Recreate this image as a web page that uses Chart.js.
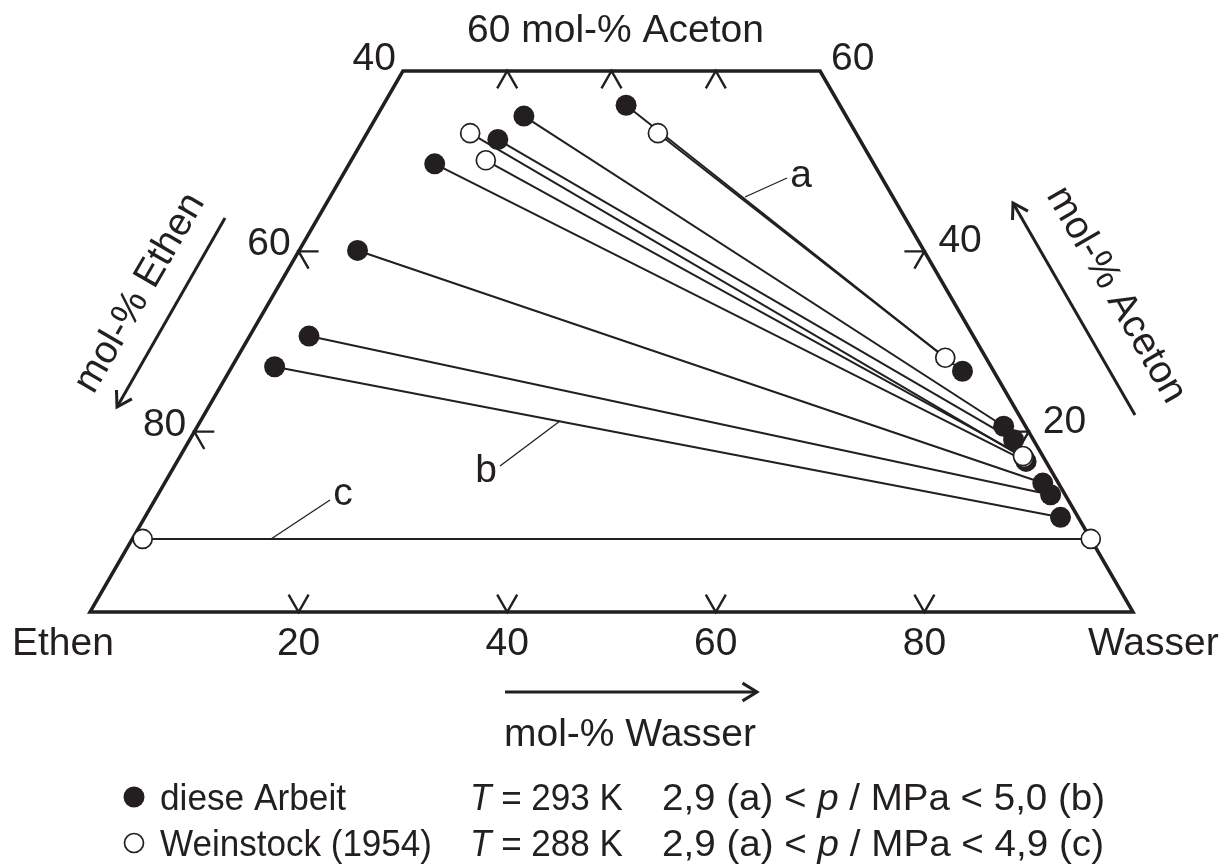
<!DOCTYPE html>
<html>
<head>
<meta charset="utf-8">
<script src="https://cdn.jsdelivr.net/npm/chart.js@4"></script>
<style>
  body { margin: 0; background: #fff; }
  #wrap { width: 1229px; height: 867px; }
</style>
</head>
<body>
<div id="wrap"><canvas id="ternary" width="1229" height="867"></canvas></div>
<script>
// Zusammensetzungen in mol-% (Wasser, Aceton); Ethen = 100 - Wasser - Aceton

// diese Arbeit, T = 293 K (gefüllte Kreise): Ethen-reiche Phase links, Wasser-reiche Phase rechts
const arbeitWasserLinks  = [23.3, 14.1, 12.9, 8.2, 5.6, 5.7, 4.1];
const arbeitAcetonLinks  = [56.2, 55.0, 52.4, 49.7, 40.1, 30.6, 27.2];
const arbeitWasserRechts = [70.3, 77.3, 79.0, 81.4, 84.2, 85.6, 87.8];
const arbeitAcetonRechts = [26.7, 20.6, 19.1, 16.7, 14.3, 13.0, 10.5];

// Weinstock (1954), T = 288 K (offene Kreise)
const weinstockWasserLinks  = [27.9, 9.9, 12.9, 1.0];
const weinstockAcetonLinks  = [53.1, 53.1, 50.1, 8.1];
const weinstockWasserRechts = [67.9, 81.0, 80.8, 91.9];
const weinstockAcetonRechts = [28.2, 17.1, 17.3, 8.1];

// Achsen
const wasserTicks = [20, 40, 60, 80];   // Grundlinie
const obenTicks = [10, 20, 30];         // Wasser bei 60 mol-% Aceton
const ethenTicks = [60, 80];            // linke Seite
const acetonTicks = [40, 20];           // rechte Seite
const acetonMax = 60;

const INK = '#231f20';
const FONT = '"Liberation Sans", Arial, sans-serif';

// Dreieckskoordinaten -> Diagrammkoordinaten
function toXY(w, a) {
  return { x: w + a / 2, y: a };
}

const lineSets = [];
arbeitWasserLinks.forEach((w, i) => {
  lineSets.push([toXY(w, arbeitAcetonLinks[i]), toXY(arbeitWasserRechts[i], arbeitAcetonRechts[i])]);
});
weinstockWasserLinks.forEach((w, i) => {
  lineSets.push([toXY(w, weinstockAcetonLinks[i]), toXY(weinstockWasserRechts[i], weinstockAcetonRechts[i])]);
});

const filledPts = [];
arbeitWasserLinks.forEach((w, i) => filledPts.push(toXY(w, arbeitAcetonLinks[i])));
arbeitWasserRechts.forEach((w, i) => filledPts.push(toXY(w, arbeitAcetonRechts[i])));
const openPts = [];
weinstockWasserLinks.forEach((w, i) => openPts.push(toXY(w, weinstockAcetonLinks[i])));
weinstockWasserRechts.forEach((w, i) => openPts.push(toXY(w, weinstockAcetonRechts[i])));

const datasets = lineSets.map(pts => ({
  data: pts,
  showLine: true,
  borderColor: INK,
  borderWidth: 2,
  pointRadius: 0,
  clip: false,
  order: 3
}));
datasets.push({
  data: filledPts,
  pointRadius: 10.5,
  backgroundColor: INK,
  borderWidth: 0,
  clip: false,
  order: 2
});
datasets.push({
  data: openPts,
  pointRadius: 9.5,
  backgroundColor: '#fff',
  borderColor: INK,
  borderWidth: 1.7,
  clip: false,
  order: 1
});

function seg(ctx, x1, y1, x2, y2) {
  ctx.beginPath();
  ctx.moveTo(x1, y1);
  ctx.lineTo(x2, y2);
  ctx.stroke();
}

function arrow(ctx, x1, y1, x2, y2) {
  seg(ctx, x1, y1, x2, y2);
  const ang = Math.atan2(y2 - y1, x2 - x1);
  const L = 17, spread = 0.55;
  ctx.beginPath();
  ctx.moveTo(x2 - L * Math.cos(ang - spread), y2 - L * Math.sin(ang - spread));
  ctx.lineTo(x2, y2);
  ctx.lineTo(x2 - L * Math.cos(ang + spread), y2 - L * Math.sin(ang + spread));
  ctx.stroke();
}

// Text mit kursiven Stücken, schmal gezogen auf die Breite w
function richText(ctx, x, y, parts, size, w) {
  let total = 0;
  parts.forEach(([t, it]) => {
    ctx.font = (it ? 'italic ' : '') + size + 'px ' + FONT;
    total += ctx.measureText(t).width;
  });
  ctx.save();
  ctx.translate(x, y);
  ctx.scale(w / total, 1);
  let cx = 0;
  parts.forEach(([t, it]) => {
    ctx.font = (it ? 'italic ' : '') + size + 'px ' + FONT;
    ctx.fillText(t, cx, 0);
    cx += ctx.measureText(t).width;
  });
  ctx.restore();
}

const ternaryPlugin = {
  id: 'ternary',
  beforeDatasetsDraw(chart) {
    const ctx = chart.ctx;
    const sx = chart.scales.x, sy = chart.scales.y;
    const P = (w, a) => [sx.getPixelForValue(w + a / 2), sy.getPixelForValue(a)];
    const c60 = Math.cos(Math.PI / 3), s60 = Math.sin(Math.PI / 3);
    const T = 20;

    ctx.save();
    ctx.strokeStyle = INK;
    ctx.lineCap = 'butt';
    ctx.lineJoin = 'miter';

    // Rahmen
    ctx.lineWidth = 3.5;
    ctx.beginPath();
    [P(0, 0), P(100, 0), P(100 - acetonMax, acetonMax), P(0, acetonMax)].forEach((p, i) => {
      if (i === 0) ctx.moveTo(p[0], p[1]); else ctx.lineTo(p[0], p[1]);
    });
    ctx.closePath();
    ctx.stroke();

    // Ticks
    ctx.lineWidth = 2.4;
    wasserTicks.forEach(w => {
      const [x, y] = P(w, 0);
      ctx.beginPath();
      ctx.moveTo(x - T * c60, y - T * s60);
      ctx.lineTo(x, y);
      ctx.lineTo(x + T * c60, y - T * s60);
      ctx.stroke();
    });
    obenTicks.forEach(w => {
      const [x, y] = P(w, acetonMax);
      ctx.beginPath();
      ctx.moveTo(x - T * c60, y + T * s60);
      ctx.lineTo(x, y);
      ctx.lineTo(x + T * c60, y + T * s60);
      ctx.stroke();
    });
    ethenTicks.forEach(e => {
      const [x, y] = P(0, 100 - e);
      ctx.beginPath();
      ctx.moveTo(x + T, y);
      ctx.lineTo(x, y);
      ctx.lineTo(x + T * c60, y + T * s60);
      ctx.stroke();
    });
    acetonTicks.forEach(a => {
      const [x, y] = P(100 - a, a);
      ctx.beginPath();
      ctx.moveTo(x - T, y);
      ctx.lineTo(x, y);
      ctx.lineTo(x - T * c60, y + T * s60);
      ctx.stroke();
    });

    // Hinweislinien a, b, c
    ctx.lineWidth = 1.3;
    seg(ctx, 745, 197, 787, 178);
    seg(ctx, 560, 421, 500, 466);
    seg(ctx, 271, 539, 330, 500);

    // Pfeile
    ctx.lineWidth = 3;
    arrow(ctx, 505, 692, 757, 692);
    arrow(ctx, 225, 218, 117, 407);
    arrow(ctx, 1135, 415, 1013, 203);
    ctx.restore();
  },
  afterDraw(chart) {
    const ctx = chart.ctx;
    const sx = chart.scales.x, sy = chart.scales.y;
    const P = (w, a) => [sx.getPixelForValue(w + a / 2), sy.getPixelForValue(a)];
    const fs = 39;

    ctx.save();
    ctx.fillStyle = INK;
    ctx.font = fs + 'px ' + FONT;
    ctx.textBaseline = 'alphabetic';

    // Grundlinie
    ctx.textAlign = 'center';
    wasserTicks.forEach(w => {
      const [x, y] = P(w, 0);
      ctx.fillText(String(w), x, y + 43);
    });
    ctx.textAlign = 'left';
    ctx.fillText('Ethen', 12, 655);
    ctx.fillText('Wasser', 1088, 655);

    // oben
    const [tlx, tly] = P(0, acetonMax);
    const [trx, try_] = P(100 - acetonMax, acetonMax);
    ctx.textAlign = 'right';
    ctx.fillText('40', tlx - 7, tly - 1);
    ctx.textAlign = 'left';
    ctx.fillText('60', trx + 11, try_ - 1);
    ctx.textAlign = 'center';
    ctx.fillText(acetonMax + ' mol-% Aceton', (tlx + trx) / 2 + 4, 42);

    // linke Seite
    ctx.textAlign = 'right';
    ethenTicks.forEach(e => {
      const [x, y] = P(0, 100 - e);
      ctx.fillText(String(e), x - 8, y + 4);
    });
    // rechte Seite
    ctx.textAlign = 'left';
    acetonTicks.forEach(a => {
      const [x, y] = P(100 - a, a);
      ctx.fillText(String(a), x + 14, y + 1);
    });

    // Buchstaben a, b, c
    ctx.textAlign = 'center';
    ctx.fillText('a', 801, 187);
    ctx.fillText('b', 486, 482);
    ctx.fillText('c', 343, 505);

    // Achsentitel
    ctx.fillText('mol-% Wasser', 630, 746);
    ctx.textBaseline = 'middle';
    ctx.save();
    ctx.translate(140, 293);
    ctx.rotate(-Math.PI / 3);
    ctx.fillText('mol-% Ethen', 0, 0);
    ctx.restore();
    ctx.save();
    ctx.translate(1116, 295);
    ctx.rotate(Math.PI / 3);
    ctx.fillText('mol-% Aceton', 0, 0);
    ctx.restore();

    // Legende
    ctx.textBaseline = 'alphabetic';
    ctx.textAlign = 'left';
    const lf = 37;
    ctx.beginPath();
    ctx.arc(134, 797, 10.5, 0, Math.PI * 2);
    ctx.fill();
    ctx.strokeStyle = INK;
    ctx.lineWidth = 1.7;
    ctx.beginPath();
    ctx.arc(134, 843, 9.5, 0, Math.PI * 2);
    ctx.stroke();
    richText(ctx, 160, 810, [['diese Arbeit', false]], lf, 186);
    richText(ctx, 470, 810, [['T', true], [' = 293 K', false]], lf, 153);
    richText(ctx, 662, 810, [['2,9 (a) < ', false], ['p', true], [' / MPa < 5,0 (b)', false]], lf, 443);
    richText(ctx, 160, 856, [['Weinstock (1954)', false]], lf, 272);
    richText(ctx, 470, 856, [['T', true], [' = 288 K', false]], lf, 153);
    richText(ctx, 662, 856, [['2,9 (a) < ', false], ['p', true], [' / MPa < 4,9 (c)', false]], lf, 442);
    ctx.restore();
  }
};

new Chart(document.getElementById('ternary'), {
  type: 'scatter',
  data: { datasets: datasets },
  options: {
    responsive: false,
    animation: false,
    layout: { padding: { left: 90, right: 96, top: 71, bottom: 255 } },
    scales: {
      x: { type: 'linear', min: 0, max: 100, display: false },
      y: { type: 'linear', min: 0, max: acetonMax, display: false }
    },
    plugins: {
      legend: { display: false },
      tooltip: { enabled: false }
    }
  },
  plugins: [ternaryPlugin]
});
</script>
</body>
</html>
